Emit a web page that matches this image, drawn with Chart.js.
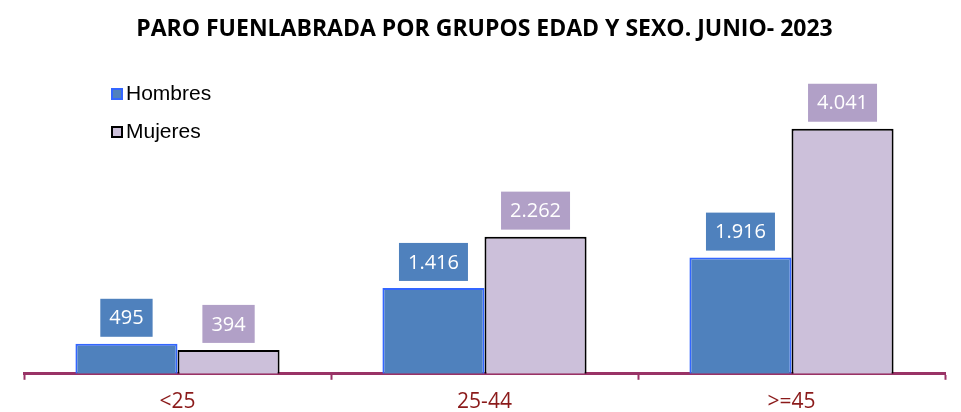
<!DOCTYPE html>
<html>
<head>
<meta charset="utf-8">
<script src="https://cdn.jsdelivr.net/npm/chart.js@4.4.0/dist/chart.umd.min.js"></script>
<style>
  html, body { margin: 0; padding: 0; background: #fff; }
  #wrap { width: 961px; height: 412px; position: relative; }
</style>
</head>
<body>
<div id="wrap"><canvas id="paroChart"></canvas></div>
<script>
// datos
const categories = ['<25', '25-44', '>=45'];
const hombres = [495, 1416, 1916];
const mujeres = [394, 2262, 4041];
const seriesNames = ['Hombres', 'Mujeres'];

const fmt = v => v.toLocaleString('de-DE');

// etiquetas de valor con caja de color encima de cada barra
const valueBoxes = {
  id: 'valueBoxes',
  afterDatasetsDraw(chart) {
    const ctx = chart.ctx;
    ctx.save();
    ctx.font = '20px "Open Sans"';
    ctx.textAlign = 'center';
    ctx.textBaseline = 'middle';
    chart.data.datasets.forEach((ds, i) => {
      chart.getDatasetMeta(i).data.forEach((bar, j) => {
        const txt = fmt(ds.data[j]);
        const w = ctx.measureText(txt).width + 18;
        const h = 38;
        const y = bar.y - 7 - h;
        ctx.fillStyle = ds.labelColor;
        ctx.fillRect(bar.x - w / 2, y, w, h);
        ctx.fillStyle = '#ffffff';
        ctx.fillText(txt, bar.x, y + h / 2 + 1);
      });
    });
    ctx.restore();
  }
};

// leyenda vertical arriba a la izquierda
const sideLegend = {
  id: 'sideLegend',
  afterDraw(chart) {
    const ctx = chart.ctx;
    ctx.save();
    ctx.font = '21px "Liberation Sans"';
    ctx.textBaseline = 'middle';
    chart.data.datasets.forEach((ds, i) => {
      const y = 94 + i * 38;
      ctx.fillStyle = ds.backgroundColor;
      ctx.fillRect(112, y - 5, 10, 10);
      ctx.lineWidth = 2;
      ctx.strokeStyle = ds.borderColor;
      ctx.strokeRect(112, y - 5, 10, 10);
      ctx.fillStyle = '#000';
      ctx.fillText(ds.label, 126, y);
    });
    ctx.restore();
  }
};

new Chart(document.getElementById('paroChart'), {
  type: 'bar',
  data: {
    labels: categories,
    datasets: [{
      label: seriesNames[0],
      data: hombres,
      backgroundColor: '#4f81bd',
      borderColor: '#3366ff',
      labelColor: '#4f81bd',
      borderWidth: 2,
      borderSkipped: 'bottom'
    }, {
      label: seriesNames[1],
      data: mujeres,
      backgroundColor: '#ccc0da',
      borderColor: '#000000',
      labelColor: '#b1a0c7',
      borderWidth: 2,
      borderSkipped: 'bottom'
    }]
  },
  options: {
    responsive: true,
    maintainAspectRatio: false,
    animation: false,
    layout: { padding: { left: 24, right: 16, top: 0, bottom: -13 } },
    categoryPercentage: 0.665,
    barPercentage: 1.0,
    plugins: {
      legend: { display: false },
      tooltip: { enabled: false },
      title: {
        display: true,
        text: 'PARO FUENLABRADA POR GRUPOS EDAD Y SEXO. JUNIO- 2023',
        color: '#000',
        font: { family: 'Open Sans', size: 23, weight: 'bold' },
        padding: { top: 16, bottom: 27 }
      }
    },
    scales: {
      x: {
        grid: {
          offset: true,
          drawOnChartArea: false,
          drawTicks: true,
          tickLength: 6,
          tickWidth: 2,
          tickColor: '#993366'
        },
        border: { color: '#993366', width: 3 },
        ticks: {
          color: '#8b1a1a',
          font: { family: 'Open Sans', size: 21 },
          padding: 10
        }
      },
      y: {
        display: false,
        min: 0,
        max: 5000
      }
    }
  },
  plugins: [valueBoxes, sideLegend]
});
</script>
</body>
</html>
